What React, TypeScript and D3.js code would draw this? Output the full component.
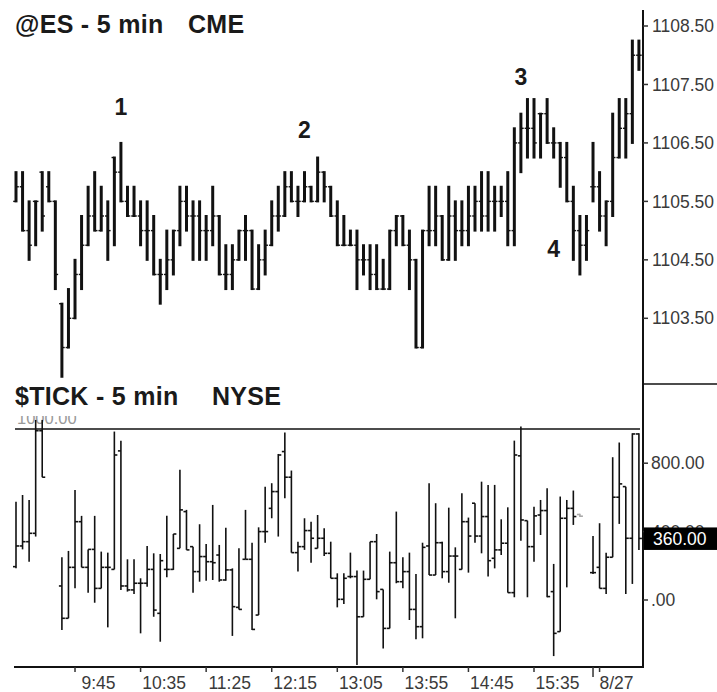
import React from "react";
import * as d3 from "d3";

// ---------- ES 5-min OHLC (bar index 0..95) ----------
const esOpen = [1105.5,1105.75,1105.0,1105.5,1106.0,1105.75,1105.5,1103.75,1103.0,1103.5,1104.25,1104.75,1105.25,1105.0,1105.25,1106.25,1106.0,1105.5,1105.25,1105.25,1105.0,1105.0,1104.25,1104.25,1104.5,1105.0,1105.5,1105.25,1105.25,1105.0,1105.0,1105.25,1104.25,1104.25,1104.5,1105.0,1105.0,1104.0,1104.5,1104.75,1105.25,1105.25,1105.75,1105.5,1105.5,1105.75,1105.5,1106.0,1105.75,1105.25,1104.75,1104.75,1104.75,1104.5,1104.5,1104.25,1104.0,1104.0,1105.0,1105.25,1104.75,1104.5,1103.0,1105.0,1105.0,1105.25,1104.5,1105.25,1105.0,1105.0,1105.25,1105.5,1105.25,1105.5,1105.5,1105.5,1105.0,1106.5,1106.75,1106.75,1107.0,1107.0,1106.5,1106.5,1106.25,1105.5,1105.0,1104.75,1105.75,1105.75,1105.25,1105.5,1106.25,1106.75,1107.0,1108.0];
const esHigh = [1106.0,1106.0,1105.5,1105.5,1106.0,1106.0,1105.5,1103.75,1104.0,1104.5,1105.25,1105.75,1106.0,1105.75,1105.5,1106.25,1106.5,1105.75,1105.75,1105.5,1105.5,1105.25,1104.5,1105.0,1105.0,1105.75,1105.75,1105.5,1105.5,1105.25,1105.75,1105.25,1104.75,1104.75,1105.0,1105.25,1105.0,1104.75,1105.0,1105.5,1105.75,1106.0,1106.0,1105.75,1106.0,1105.75,1106.25,1106.0,1105.75,1105.5,1105.25,1105.0,1105.0,1104.75,1104.75,1104.75,1104.5,1105.0,1105.25,1105.25,1105.0,1104.5,1105.0,1105.75,1105.75,1105.25,1105.75,1105.5,1105.5,1105.75,1105.75,1106.0,1106.0,1105.75,1105.75,1106.0,1106.75,1107.0,1107.25,1107.25,1107.0,1107.25,1106.75,1106.5,1106.5,1105.75,1105.25,1105.25,1106.5,1106.0,1105.5,1107.0,1107.25,1107.25,1108.25,1108.25];
const esLow = [1105.5,1105.0,1104.5,1104.75,1105.0,1105.5,1104.0,1102.5,1103.0,1103.5,1104.0,1104.75,1105.0,1105.0,1104.5,1104.75,1105.5,1105.25,1105.25,1104.75,1104.5,1104.25,1103.75,1104.0,1104.25,1104.75,1105.0,1104.5,1104.5,1104.5,1104.75,1104.25,1104.0,1104.0,1104.5,1104.5,1104.0,1104.0,1104.25,1104.75,1105.0,1105.25,1105.5,1105.25,1105.5,1105.5,1105.5,1105.5,1105.25,1104.75,1104.75,1104.75,1104.0,1104.25,1104.0,1104.0,1104.0,1104.0,1104.75,1104.75,1104.0,1103.0,1103.0,1104.75,1104.75,1104.5,1104.5,1104.5,1104.75,1104.75,1105.0,1105.0,1105.0,1105.0,1105.25,1104.75,1104.75,1106.0,1106.25,1106.25,1106.25,1106.5,1106.25,1105.75,1105.5,1104.5,1104.25,1104.5,1105.5,1105.0,1104.75,1105.25,1106.25,1106.25,1106.5,1107.75];
const esClose = [1105.75,1105.0,1104.75,1105.5,1105.25,1105.5,1104.25,1103.0,1103.5,1104.25,1104.75,1105.25,1105.0,1105.25,1105.0,1106.0,1105.5,1105.25,1105.25,1105.0,1105.0,1104.25,1104.25,1104.5,1105.0,1105.5,1105.25,1105.25,1105.0,1105.0,1105.25,1104.25,1104.25,1104.5,1105.0,1105.0,1104.0,1104.5,1104.75,1105.25,1105.25,1105.75,1105.5,1105.5,1105.75,1105.5,1106.0,1105.75,1105.25,1104.75,1104.75,1104.75,1104.5,1104.5,1104.25,1104.0,1104.0,1105.0,1105.25,1104.75,1104.5,1103.0,1105.0,1105.0,1105.25,1104.5,1105.25,1105.0,1105.0,1105.25,1105.5,1105.25,1105.5,1105.5,1105.5,1105.0,1106.5,1106.75,1106.75,1106.5,1107.0,1106.5,1106.5,1106.25,1105.5,1105.0,1104.75,1105.0,1105.75,1105.25,1105.5,1106.25,1106.75,1107.0,1108.0,1108.0];

// ---------- $TICK 5-min OHLC (null = no bar) ----------
const tickOpen = [195,316,341,390,990,null,null,82,-107,191,458,191,296,68,191,179,872,82,59,98,98,179,-78,179,179,302,517,312,166,254,224,263,117,176,-43,238,238,-88,400,536,634,868,718,277,312,406,302,361,273,127,4,137,137,-98,121,341,62,-166,218,107,166,-55,-156,316,146,335,166,257,179,458,566,374,488,244,293,332,43,843,464,312,497,523,49,-185,478,536,500,null,160,191,68,250,601,663,361,971];
const tickHigh = [575,614,585,1053,1053,null,null,250,287,644,492,296,492,283,277,985,932,238,238,127,316,273,269,492,386,761,527,312,443,328,556,322,423,185,302,527,335,425,663,683,854,979,757,341,478,458,497,419,341,156,156,277,172,172,341,386,62,283,517,250,277,152,335,683,566,341,540,308,624,482,566,692,673,673,472,542,932,1014,464,546,585,653,211,605,585,640,505,null,374,449,277,835,921,663,975,975];
const tickLow = [185,296,224,371,718,null,null,-176,-107,68,191,43,-16,68,-160,179,59,49,35,-195,78,-98,-244,133,176,302,293,43,107,113,117,107,113,-210,-55,238,-176,-88,335,478,371,595,277,166,293,218,302,257,127,-43,-23,127,-380,-98,121,4,-283,-166,98,68,-117,-230,-224,146,146,127,101,-107,179,160,335,273,137,185,263,43,16,347,16,224,380,16,-328,-185,74,439,485,null,152,68,35,250,445,35,94,293];
const tickClose = [316,341,390,990,718,null,null,-107,191,458,191,296,68,191,191,848,82,59,98,98,179,-59,230,179,386,527,293,166,254,224,218,117,176,-39,-55,238,-172,400,400,634,848,718,277,312,406,361,361,273,127,4,127,137,-98,121,341,49,-166,218,107,166,-55,-156,308,146,335,166,257,257,458,374,374,488,230,293,332,43,848,468,312,492,523,20,-195,478,536,488,490,null,160,68,250,601,679,361,971,360];

// ---------- axes / labels ----------
const priceTicks = [1108.5, 1107.5, 1106.5, 1105.5, 1104.5, 1103.5];
const tickAxisValues = [800, 400, 0];
const tickAxisText = ["800.00", "400.00", ".00"];
const lastTick = 360;
const timeTickIdx = [9, 19, 29, 39, 49, 59, 69, 79, 88];
const timeLabels = ["9:45", "10:35", "11:25", "12:15", "13:05", "13:55", "14:45", "15:35", "8/27"];
const waveLabels = ["1", "2", "3", "4"];
const waveIdx = [16, 44, 77, 82];
const wavePrice = [1107.12, 1106.72, 1107.62, 1104.68];

const W = 717, H = 692;
const AXIS_X = 643;
const FONT = "Liberation Sans, Arial, Helvetica, sans-serif";

export default function App() {
  const n = esHigh.length;
  const x = d3.scaleLinear().domain([0, n - 1]).range([16, 16 + (n - 1) * 6.557]);
  const yP = d3.scaleLinear().domain([1103.5, 1108.5]).range([318.3, 26]);
  const yT = d3.scaleLinear().domain([0, 800]).range([600, 463.2]);
  const fmtP = d3.format(".2f");

  const esBars = esHigh.map((h, i) => {
    const cx = x(i);
    return (
      <g key={"es" + i}>
        <line x1={cx} x2={cx} y1={yP(h) - 1} y2={yP(esLow[i]) + 1} stroke="#111" strokeWidth={3} />
        <line x1={cx - 2.8} x2={cx} y1={yP(esOpen[i])} y2={yP(esOpen[i])} stroke="#111" strokeWidth={1.4} />
        <line x1={cx} x2={cx + 2.8} y1={yP(esClose[i])} y2={yP(esClose[i])} stroke="#111" strokeWidth={1.4} />
      </g>
    );
  });

  const tickBars = tickHigh.map((h, i) => {
    if (h === null) return null;
    const cx = x(i);
    const grey = i === 86;
    const col = grey ? "#aaa" : "#111";
    return (
      <g key={"tk" + i}>
        <line x1={cx} x2={cx} y1={yT(h)} y2={yT(tickLow[i] as number)} stroke={col} strokeWidth={1.6} />
        <line x1={cx - 3} x2={cx} y1={yT(tickOpen[i] as number)} y2={yT(tickOpen[i] as number)} stroke={col} strokeWidth={1.6} />
        <line x1={cx} x2={cx + 3} y1={yT(tickClose[i] as number)} y2={yT(tickClose[i] as number)} stroke={col} strokeWidth={1.6} />
      </g>
    );
  });

  return (
    <svg width={W} height={H} style={{ position: "absolute", left: 0, top: 0, background: "#fff" }} fontFamily={FONT}>
      <defs>
        <clipPath id="lblclip">
          <rect x={0} y={416} width={200} height={20} />
        </clipPath>
        <clipPath id="c400">
          <rect x={640} y={500} width={80} height={29.5} />
        </clipPath>
      </defs>
      <rect x={0} y={0} width={W} height={H} fill="#fff" />

      {/* titles */}
      <text x={15} y={33} fontSize={25} fontWeight={700} fill="#1a1a1a" letterSpacing={0.3}>
        <tspan>@ES - 5 min</tspan>
        <tspan x={188}>CME</tspan>
      </text>
      <text x={15} y={405} fontSize={25} fontWeight={700} fill="#1a1a1a" letterSpacing={0.3}>
        <tspan>$TICK - 5 min</tspan>
        <tspan x={212}>NYSE</tspan>
      </text>

      {/* wave labels */}
      {waveLabels.map((t, k) => (
        <text key={t} x={x(waveIdx[k])} y={yP(wavePrice[k])} fontSize={23} fontWeight={700}
          textAnchor="middle" dominantBaseline="central" fill="#1a1a1a">{t}</text>
      ))}

      {/* ES bars */}
      {esBars}

      {/* right axis */}
      <line x1={AXIS_X} x2={AXIS_X} y1={10} y2={668} stroke="#111" strokeWidth={2} />
      <line x1={AXIS_X} x2={W} y1={384} y2={384} stroke="#111" strokeWidth={1.5} />
      {priceTicks.map((p) => (
        <g key={"pt" + p}>
          <line x1={AXIS_X} x2={AXIS_X + 5} y1={yP(p)} y2={yP(p)} stroke="#333" strokeWidth={1.5} />
          <text x={652} y={yP(p)} dy="0.35em" fontSize={17.5} fill="#3a3a3a">{fmtP(p)}</text>
        </g>
      ))}

      {/* TICK panel */}
      <text x={17} y={424} fontSize={16.5} fill="#9a9a9a" clipPath="url(#lblclip)">1000.00</text>
      <line x1={15} x2={640} y1={yT(1000)} y2={yT(1000)} stroke="#111" strokeWidth={1.5} />
      {tickBars}
      {tickAxisValues.map((v, k) => (
        <g key={"tv" + v}>
          <line x1={AXIS_X} x2={AXIS_X + 5} y1={yT(v)} y2={yT(v)} stroke="#333" strokeWidth={1.5} />
          <text x={651} y={yT(v)} dy="0.35em" fontSize={17.5} fill="#3a3a3a"
            clipPath={v === 400 ? "url(#c400)" : undefined}>{tickAxisText[k]}</text>
        </g>
      ))}
      <rect x={AXIS_X + 1} y={yT(lastTick) - 11} width={W - AXIS_X} height={22.5} fill="#000" />
      <text x={653} y={yT(lastTick)} dy="0.37em" fontSize={17.5} fill="#fff">{fmtP(lastTick)}</text>

      {/* time axis */}
      <line x1={14} x2={AXIS_X + 1} y1={667} y2={667} stroke="#111" strokeWidth={2} />
      {timeTickIdx.map((ti, k) => (
        <g key={"tt" + ti}>
          <line x1={x(ti)} x2={x(ti)} y1={667} y2={ti === 88 ? 677 : 672} stroke="#333" strokeWidth={1.5} />
          <text x={x(ti) + 23.5} y={689} textAnchor="middle" fontSize={17.5} fill="#3a3a3a">{timeLabels[k]}</text>
        </g>
      ))}
      <line x1={x(89)} x2={x(89)} y1={667} y2={672} stroke="#333" strokeWidth={1.5} />
    </svg>
  );
}
